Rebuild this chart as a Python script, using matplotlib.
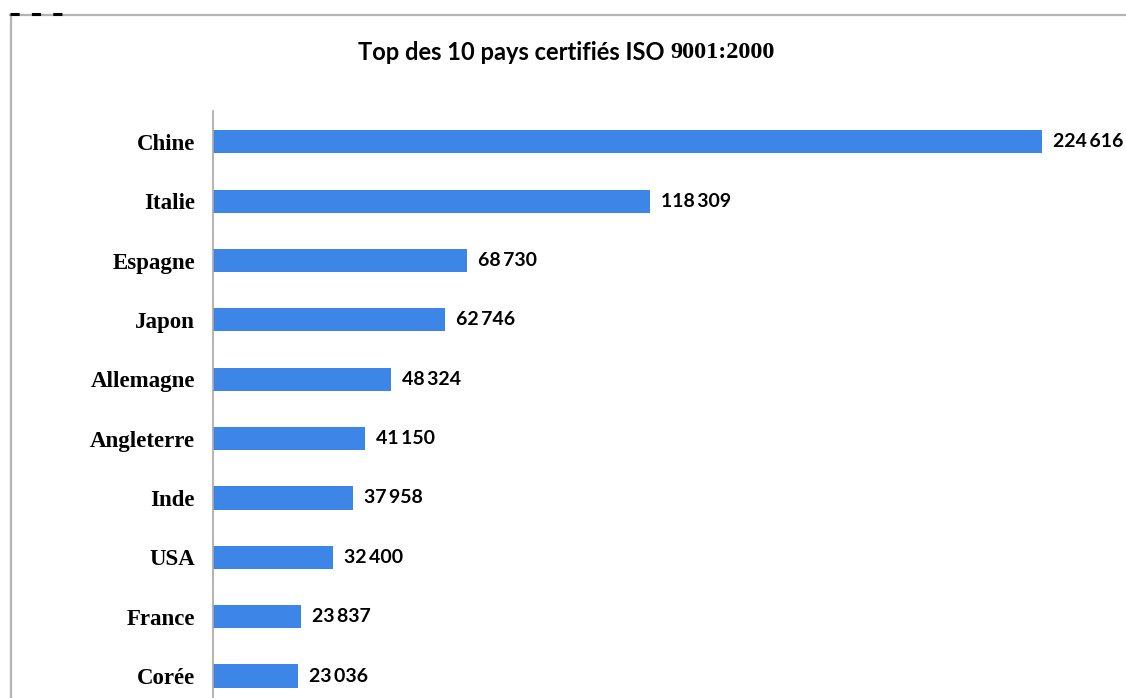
import matplotlib.pyplot as plt
from matplotlib.lines import Line2D

# ISO 9001:2000 certificates per country
pays = ["Chine", "Italie", "Espagne", "Japon", "Allemagne",
        "Angleterre", "Inde", "USA", "France", "Corée"]
certificats = [224616, 118309, 68730, 62746, 48324,
               41150, 37958, 32400, 23837, 23036]

bar_color = "#3d85e6"

fig = plt.figure(figsize=(11.26, 6.98), dpi=100)
fig.patch.set_facecolor("white")

# outer frame (top and left edges only)
fig.add_artist(Line2D([10 / 1126, 1], [1 - 15 / 698, 1 - 15 / 698],
                      color="#b4b4b4", lw=1.6, transform=fig.transFigure))
fig.add_artist(Line2D([11 / 1126, 11 / 1126], [0, 1 - 15 / 698],
                      color="#b4b4b4", lw=1.6, transform=fig.transFigure))
fig.add_artist(Line2D([10 / 1126, 62 / 1126], [1 - 14 / 698, 1 - 14 / 698],
                      color="black", lw=2.2, ls=(0, (3, 4)),
                      transform=fig.transFigure))

ax = fig.add_axes([213 / 1126, 0, 1 - 213 / 1126, (698 - 111) / 698])
y = list(range(len(pays)))
ax.barh(y, certificats, height=0.39, color=bar_color)

ax.set_ylim(9.37, -0.52)
ax.set_xlim(0, 247360)

for s in ["top", "right", "bottom"]:
    ax.spines[s].set_visible(False)
ax.spines["left"].set_color("#a8a8a8")
ax.spines["left"].set_linewidth(1.2)
ax.set_xticks([])
ax.set_yticks(y)
ax.set_yticklabels(pays, fontfamily="Liberation Serif", fontweight="bold",
                   fontsize=16.5)
ax.tick_params(axis="y", length=0, pad=13)

for yi, v in zip(y, certificats):
    txt = f"{v:,}".replace(",", "\u2009")
    ax.annotate(txt, (v, yi), xytext=(8, 0), textcoords="offset points",
                va="center", ha="left", fontfamily="Lato",
                fontweight="bold", fontsize=14, annotation_clip=False)

# title: sans part followed by serif digits
fig.text(665 / 1126, 1 - 53 / 698, "Top des 10 pays certifiés ISO",
         ha="right", va="center", fontfamily="Lato", fontweight="bold",
         fontsize=17)
fig.text(670 / 1126, 1 - 53 / 698, "9001:2000",
         ha="left", va="center", fontfamily="Liberation Serif",
         fontweight="bold", fontsize=17.5)

fig.savefig("out.png", dpi=100)
